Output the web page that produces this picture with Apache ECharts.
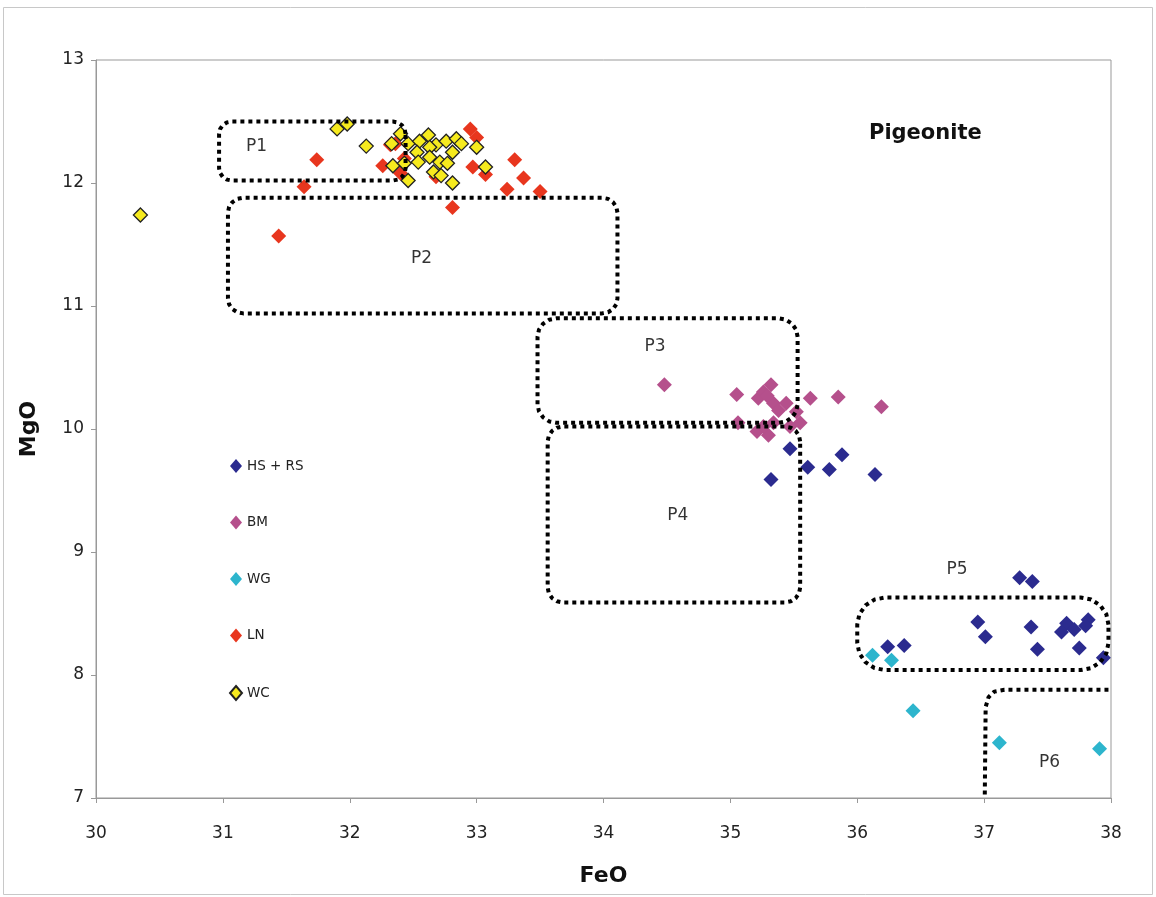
<!DOCTYPE html>
<html><head><meta charset="utf-8">
<script src="https://cdn.jsdelivr.net/npm/echarts@6/dist/echarts.min.js"></script>
<style>html,body{margin:0;padding:0;background:#fff}#c{width:1156px;height:897px}</style>
</head><body><div id="c"></div>
<script>
// ---- data (FeO = x, MgO = y) ----
const seriesNames = ['HS + RS', 'BM', 'WG', 'LN', 'WC'];

const feoHS = [35.47, 35.88, 35.61, 35.78, 36.14, 35.32, 37.28, 37.38, 36.95, 37.01, 37.37, 37.42, 37.65, 37.61, 37.71, 37.82, 37.80, 37.75, 37.94, 36.24, 36.37];
const mgoHS = [9.84, 9.79, 9.69, 9.67, 9.63, 9.59, 8.79, 8.76, 8.43, 8.31, 8.39, 8.21, 8.42, 8.35, 8.37, 8.45, 8.40, 8.22, 8.14, 8.23, 8.24];

const feoBM = [34.48, 35.05, 35.22, 35.26, 35.32, 35.34, 35.44, 35.52, 35.63, 35.85, 36.19, 35.06, 35.21, 35.30, 35.34, 35.55, 35.47, 35.26, 35.38, 35.29];
const mgoBM = [10.36, 10.28, 10.25, 10.30, 10.36, 10.21, 10.21, 10.14, 10.25, 10.26, 10.18, 10.05, 9.98, 9.95, 10.05, 10.05, 10.02, 10.02, 10.15, 10.27];

const feoWG = [36.12, 36.27, 36.44, 37.12, 37.91];
const mgoWG = [8.16, 8.12, 7.71, 7.45, 7.40];

const feoLN = [31.44, 31.64, 31.74, 32.26, 32.32, 32.43, 32.40, 32.81, 32.95, 33.00, 32.97, 33.07, 33.30, 33.24, 33.37, 33.50, 32.68, 32.36];
const mgoLN = [11.57, 11.97, 12.19, 12.14, 12.31, 12.20, 12.08, 11.80, 12.44, 12.37, 12.13, 12.07, 12.19, 11.95, 12.04, 11.93, 12.05, 12.32];

const feoWC = [30.35, 31.90, 31.98, 32.13, 32.33, 32.40, 32.46, 32.55, 32.62, 32.68, 32.76, 32.84, 32.88, 33.00, 32.53, 32.63, 32.81, 32.34, 32.43, 32.54, 32.63, 32.71, 32.77, 33.07, 32.46, 32.66, 32.72, 32.81];
const mgoWC = [11.74, 12.44, 12.48, 12.30, 12.32, 12.40, 12.32, 12.34, 12.39, 12.31, 12.34, 12.36, 12.32, 12.29, 12.25, 12.29, 12.25, 12.14, 12.16, 12.17, 12.21, 12.17, 12.16, 12.13, 12.02, 12.09, 12.06, 12.00];

// field outlines: [FeO min, FeO max, MgO min, MgO max, corner FeO, corner MgO]
const fieldBoxes = [
  [30.97, 32.44, 12.02, 12.50, 0.10, 0.10],
  [31.04, 34.11, 10.94, 11.88, 0.12, 0.12],
  [33.48, 35.53, 10.05, 10.90, 0.15, 0.15],
  [33.56, 35.55, 8.59, 10.02, 0.12, 0.12],
  [36.00, 37.98, 8.04, 8.63, 0.22, 0.22]
];
const fieldP6 = [[37.98, 7.88], [37.16, 7.88], [37.08, 7.865], [37.035, 7.82], [37.012, 7.74], [37.005, 7.0]];

const fieldNames = ['P1', 'P2', 'P3', 'P4', 'P5', 'P6'];
const fieldLabelX = [31.27, 32.57, 34.41, 34.59, 36.79, 37.52];
const fieldLabelY = [12.29, 11.38, 10.67, 9.29, 8.85, 7.28];

const xTicks = [30, 31, 32, 33, 34, 35, 36, 37, 38];
const yTicks = [7, 8, 9, 10, 11, 12, 13];

// ---- build ----
const zip = (a, b) => a.map((v, i) => [v, b[i]]);
function roundBox(b) {
  const [x0, x1, y0, y1, rx, ry] = b;
  const centers = [[x1 - rx, y1 - ry, 0], [x0 + rx, y1 - ry, 90], [x0 + rx, y0 + ry, 180], [x1 - rx, y0 + ry, 270]];
  const pts = [];
  centers.forEach(([cx, cy, base]) => {
    [0, 22.5, 45, 67.5, 90].forEach(a => {
      const t = (base + a) * Math.PI / 180;
      pts.push([cx + rx * Math.cos(t), cy + ry * Math.sin(t)]);
    });
  });
  pts.push(pts[0]);
  return pts;
}

const FONT = 'DejaVu Sans';
const colors = ['#2B2B8F', '#B5508C', '#2DB5CD', '#E8361E', '#F6EA1E'];
const pointSets = [zip(feoHS, mgoHS), zip(feoBM, mgoBM), zip(feoWG, mgoWG), zip(feoLN, mgoLN), zip(feoWC, mgoWC)];

const series = seriesNames.map((n, i) => ({
  name: n, type: 'scatter', symbol: 'diamond',
  symbolSize: i === 4 ? 14 : 15,
  data: pointSets[i],
  itemStyle: i === 4 ? { color: colors[i], borderColor: '#222', borderWidth: 1.3, opacity: 1 } : { color: colors[i], opacity: 1 },
  z: 2 + i
}));

const dotted = { color: '#000', width: 4, type: [4, 4], cap: 'butt' };
fieldBoxes.forEach((b, i) => {
  series.push({ type: 'line', data: roundBox(b), symbol: 'none', silent: true, lineStyle: dotted, z: 10, animation: false });
});
series.push({ type: 'line', data: fieldP6, symbol: 'none', silent: true, lineStyle: dotted, z: 10, animation: false });
series.push({
  type: 'scatter', symbolSize: 1, silent: true, z: 11,
  itemStyle: { color: 'rgba(0,0,0,0)' },
  data: fieldNames.map((n, i) => ({ value: [fieldLabelX[i], fieldLabelY[i]], name: n })),
  label: { show: true, position: [0, 0], align: 'center', verticalAlign: 'middle', formatter: p => p.name, fontFamily: FONT, fontSize: 17, color: '#000', textBorderWidth: 0 }
});

const chart = echarts.init(document.getElementById('c'), null, { renderer: 'canvas' });
chart.setOption({
  animation: false,
  backgroundColor: '#fff',
  title: { text: 'Pigeonite', left: 864, top: 118, textStyle: { fontFamily: FONT, fontSize: 21, fontWeight: 'bold', color: '#111' } },
  graphic: [{ type: 'rect', shape: { x: 3.5, y: 7.5, width: 1149, height: 887 }, style: { fill: 'none', stroke: '#c8c8c8', lineWidth: 1 }, silent: true }],
  legend: {
    data: seriesNames, orient: 'vertical', left: 224, top: 454, itemGap: 42.5, itemWidth: 12, itemHeight: 14,
    icon: 'diamond', textStyle: { fontFamily: FONT, fontSize: 13.5, color: '#222' }
  },
  grid: { left: 96, top: 60, right: 45, bottom: 99, show: true, borderColor: '#999', borderWidth: 1, backgroundColor: '#fff' },
  xAxis: {
    type: 'value', min: xTicks[0], max: xTicks[xTicks.length - 1], interval: 1,
    name: 'FeO', nameLocation: 'middle', nameGap: 67,
    nameTextStyle: { fontFamily: FONT, fontSize: 22, fontWeight: 'bold', color: '#111' },
    axisLine: { show: true, lineStyle: { color: '#999' } },
    axisTick: { show: true, length: 5, lineStyle: { color: '#999' } },
    axisLabel: { fontFamily: FONT, fontSize: 17, color: '#222', margin: 27 },
    splitLine: { show: false }
  },
  yAxis: {
    type: 'value', min: yTicks[0], max: yTicks[yTicks.length - 1], interval: 1,
    name: 'MgO', nameLocation: 'middle', nameGap: 56,
    nameTextStyle: { fontFamily: FONT, fontSize: 22, fontWeight: 'bold', color: '#111' },
    axisLine: { show: true, lineStyle: { color: '#999' } },
    axisTick: { show: true, length: 5, lineStyle: { color: '#999' } },
    axisLabel: { fontFamily: FONT, fontSize: 17, color: '#222', margin: 12 },
    splitLine: { show: false }
  },
  series: series
});
</script></body></html>
